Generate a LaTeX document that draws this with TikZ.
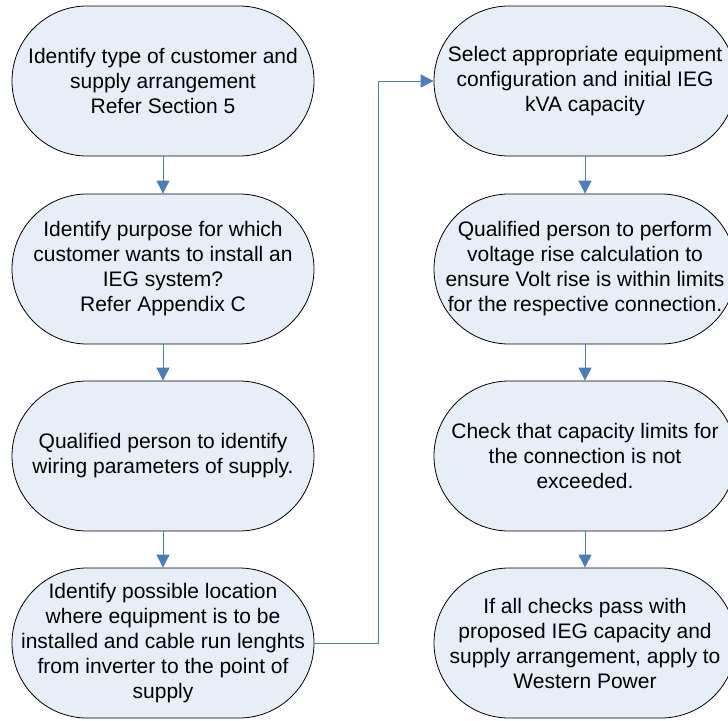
\documentclass[tikz,border=0pt]{standalone}
\usepackage{fontspec}
\setmainfont{Liberation Sans}
\usetikzlibrary{arrows.meta}
\definecolor{boxfill}{HTML}{E8EEF7}
\definecolor{linkblue}{HTML}{4A7EBB}
\begin{document}
\begin{tikzpicture}[x=1pt,y=-1pt,
  stadium/.style={draw=black, line width=0.8pt, fill=boxfill, rectangle,
    rounded corners=75pt, minimum width=302pt, minimum height=150pt,
    inner sep=0pt, align=center, font=\fontsize{21}{25}\selectfont},
  link/.style={draw=linkblue, line width=0.9pt,
    -{Triangle[width=13pt,length=13pt]}}]
\useasboundingbox (0,0) rectangle (728,720);
\node[stadium] (n1) at (163,81) {Identify type of customer and\\supply arrangement\\Refer Section 5};
\node[stadium] (n2) at (163,269) {Identify purpose for which\\customer wants to install an\\IEG system?\\Refer Appendix C};
\node[stadium] (n3) at (163,456) {Qualified person to identify\\wiring parameters of supply.};
\node[stadium] (n4) at (163,643) {Identify possible location\\where equipment is to be\\installed and cable run lenghts\\from inverter to the point of\\supply};
\node[stadium] (n5) at (585,81) {Select appropriate equipment\\configuration and initial IEG\\kVA capacity};
\node[stadium] (n6) at (585,269) {Qualified person to perform\\voltage rise calculation to\\ensure Volt rise is within limits\\for the respective connection.};
\node[stadium] (n7) at (585,456) {Check that capacity limits for\\the connection is not\\exceeded.};
\node[stadium] (n8) at (585,643) {If all checks pass with\\proposed IEG capacity and\\supply arrangement, apply to\\Western Power};
\draw[link] (n1) -- (n2);
\draw[link] (n2) -- (n3);
\draw[link] (n3) -- (n4);
\draw[link] (n4.east) -- ++(64,0) |- (n5.west);
\draw[link] (n5) -- (n6);
\draw[link] (n6) -- (n7);
\draw[link] (n7) -- (n8);
\end{tikzpicture}
\end{document}
